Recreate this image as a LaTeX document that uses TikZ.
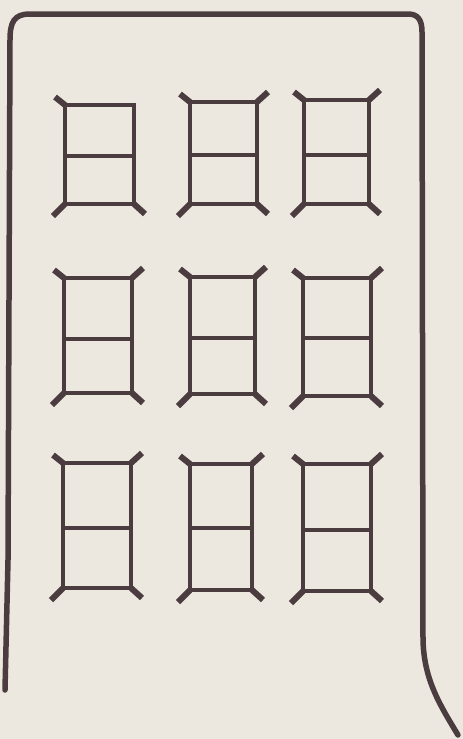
\documentclass[tikz,border=0pt]{standalone}
\definecolor{paper}{HTML}{ECE8DF}
\definecolor{ink}{HTML}{4A3C3F}
\tikzset{
  outline/.style={draw=ink,line width=5.5pt,line cap=round,line join=round},
  wline/.style={draw=ink,line width=4.8pt,line cap=butt},
  stub/.style={draw=ink,line width=6pt,line cap=butt}
}
\newcommand\fensterframe[5]{% left right top mid bottom
  \draw[wline] (#1-2,#3) -- (#2+2,#3);
  \draw[wline] (#1-2,#5) -- (#2+2,#5);
  \draw[wline] (#1,#4) -- (#2,#4);
  \draw[wline] (#1,#3) -- (#1,#5);
  \draw[wline] (#2,#3) -- (#2,#5);
}
\newcommand\stubTL[2]{\draw[stub] (#1,#2) -- ++(-10,-8);}
\newcommand\stubTR[2]{\draw[stub] (#1,#2) -- ++(11,-10);}
\newcommand\stubBL[2]{\draw[stub] (#1,#2) -- ++(-12,12);}
\newcommand\stubBR[2]{\draw[stub] (#1,#2) -- ++(11,10);}
\newcommand\fenster[5]{%
  \fensterframe{#1}{#2}{#3}{#4}{#5}%
  \stubTL{#1}{#3}\stubTR{#2}{#3}\stubBL{#1}{#5}\stubBR{#2}{#5}%
}
\begin{document}
\begin{tikzpicture}[x=1pt,y=-1pt]
\fill[paper] (0,0) rectangle (463,739);
\useasboundingbox (0,0) rectangle (463,739);
% building outline
\draw[outline] (5,690) -- (8,560) -- (10,40) .. controls (10,22) and (14,14) .. (30,14)
  -- (408,14) .. controls (418,14) and (422,20) .. (422,32)
  -- (423,640) .. controls (424,680) and (440,705) .. (458,735);
% row 1
\fensterframe{65}{134}{105}{156}{204}
\stubTL{65}{105}\stubBL{65}{204}\stubBR{134}{204}
\fenster{190}{257}{102}{155}{204}
\fenster{304}{369}{100}{155}{204}
% row 2
\fenster{64}{132}{278}{339}{393}
\fenster{190}{255}{277}{338}{394}
\fenster{303}{371}{278}{338}{396}
% row 3
\fenster{63}{131}{463}{528}{588}
\fenster{190}{252}{464}{528}{590}
\fenster{303}{371}{464}{530}{591}
\end{tikzpicture}
\end{document}
